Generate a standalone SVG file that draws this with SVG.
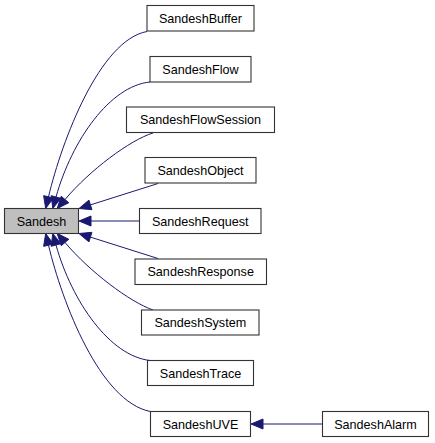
<svg xmlns="http://www.w3.org/2000/svg" width="435" height="443" viewBox="0 0 435 443">
<style>
.n rect{fill:#ffffff;stroke:#333333;stroke-width:1.1}
.n.root rect{fill:#bfbfbf}
.n text{font-family:"Liberation Sans",Arial,Helvetica,sans-serif;font-size:12.6px;fill:#000000;text-anchor:middle}
.e path{fill:none;stroke:#191970;stroke-width:1}
.e polygon{fill:#191970;stroke:#191970;stroke-width:1}
</style>
<rect width="435" height="443" fill="#ffffff"/>
<g id="connectors" class="e">
<path d="M147,31.5 C100,40 62,140 48.5,196.8"/>
<polygon points="45.7,208.5 53.36,197.96 43.64,195.64"/>
<path d="M150,82 C110,86 72,140 56,197"/>
<polygon points="52.8,208.5 60.81,198.35 51.19,195.65"/>
<path d="M153,133 C130,140 90,170 65,199.5"/>
<polygon points="57.2,208.6 68.81,202.73 61.19,196.27"/>
<path d="M158,183.5 L90.44,204.88"/>
<polygon points="79,208.5 91.95,209.65 88.93,200.11"/>
<path d="M139.5,221 L91,221"/>
<polygon points="79,221 91,216 91,226"/>
<path d="M158,258.5 L90.44,237.12"/>
<polygon points="79,233.5 91.95,232.35 88.93,241.89"/>
<path d="M153,310 C130,302 90,272 65,242.5"/>
<polygon points="57.2,233.4 68.81,239.27 61.19,245.73"/>
<path d="M150,360.5 C110,356 72,302 56,245"/>
<polygon points="52.8,233.5 60.81,243.65 51.19,246.35"/>
<path d="M150.5,411.5 C100,402 62,302 48.5,245.2"/>
<polygon points="45.7,233.5 53.36,244.04 43.64,246.36"/>
<path d="M322.5,424 L263,424"/>
<polygon points="251,424 263,419 263,429"/>
</g>
<g id="node-sandesh" class="n root"><rect x="4.5" y="208.5" width="74" height="25"/><text x="41.5" y="225.5">Sandesh</text></g>
<g id="node-buffer" class="n"><rect x="147" y="5.5" width="107" height="25.5"/><text x="200.5" y="22.8">SandeshBuffer</text></g>
<g id="node-flow" class="n"><rect x="150" y="56.5" width="101" height="25.5"/><text x="200.5" y="73.6">SandeshFlow</text></g>
<g id="node-flowsession" class="n"><rect x="126.5" y="107" width="148" height="25.5"/><text x="200.5" y="124.3">SandeshFlowSession</text></g>
<g id="node-object" class="n"><rect x="145" y="157.5" width="111" height="25.5"/><text x="200.5" y="174.8">SandeshObject</text></g>
<g id="node-request" class="n"><rect x="139.5" y="208.5" width="121.5" height="25"/><text x="200.2" y="225.5">SandeshRequest</text></g>
<g id="node-response" class="n"><rect x="135" y="259" width="131.5" height="25.5"/><text x="200.7" y="276.3">SandeshResponse</text></g>
<g id="node-system" class="n"><rect x="141.5" y="310" width="117.5" height="25"/><text x="200.3" y="327">SandeshSystem</text></g>
<g id="node-trace" class="n"><rect x="147.5" y="360.5" width="106" height="25"/><text x="200.5" y="377.5">SandeshTrace</text></g>
<g id="node-uve" class="n"><rect x="150.5" y="411.5" width="100" height="25"/><text x="200.5" y="428.5">SandeshUVE</text></g>
<g id="node-alarm" class="n"><rect x="322.5" y="411.5" width="106" height="25"/><text x="375.5" y="428.5">SandeshAlarm</text></g>
</svg>
